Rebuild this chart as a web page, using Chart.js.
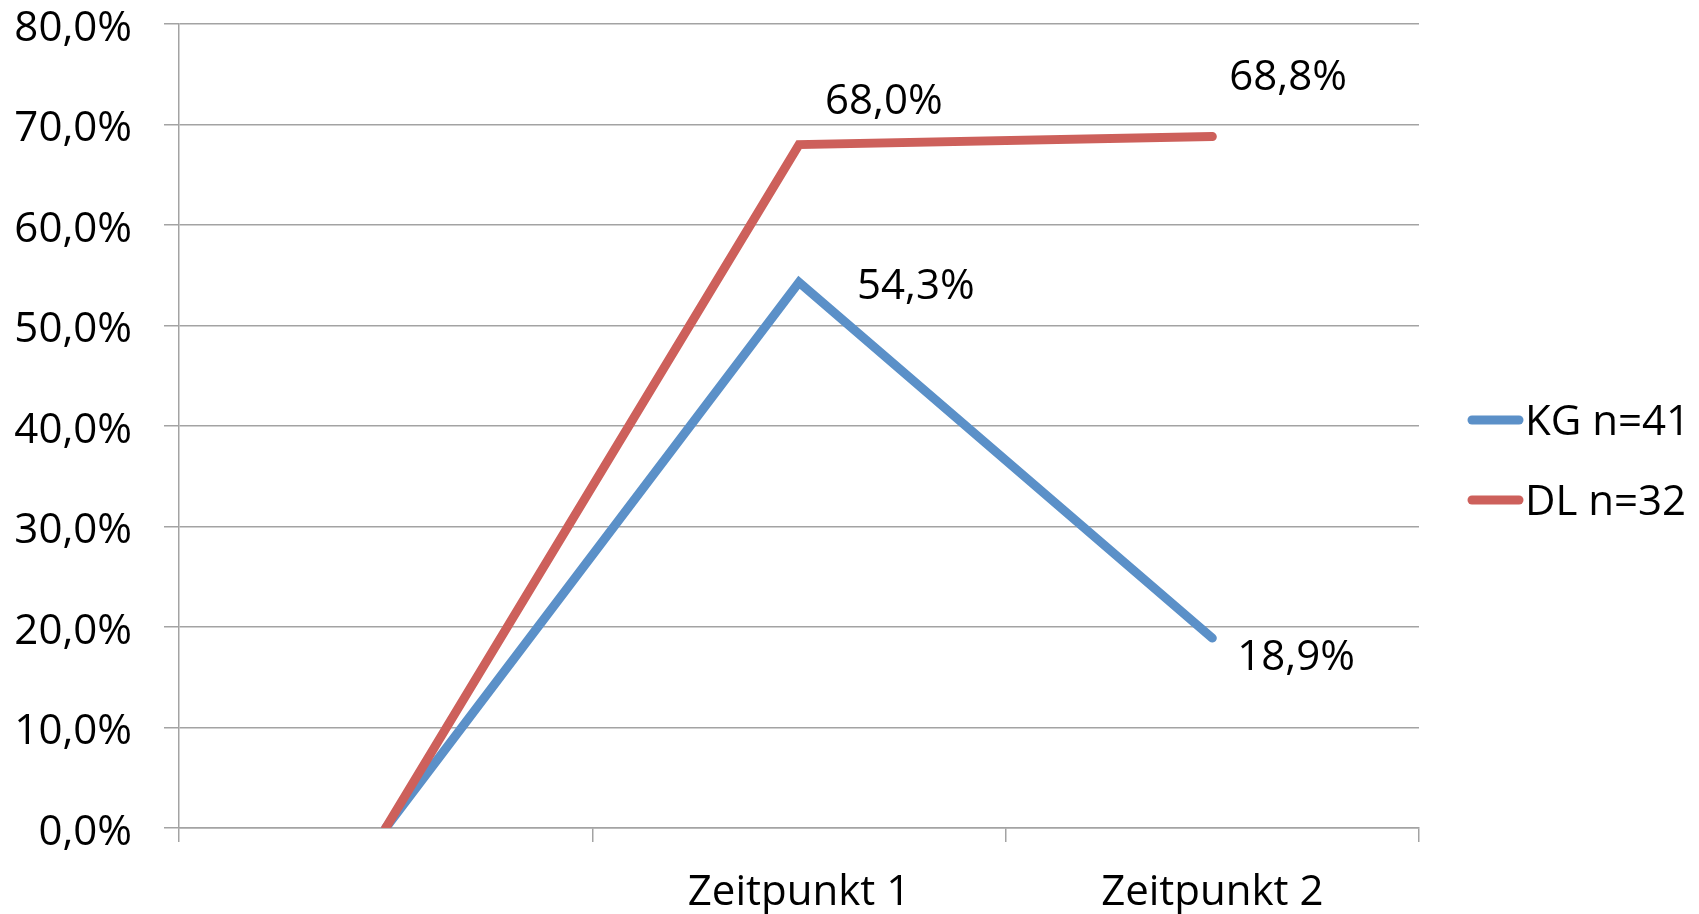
<!DOCTYPE html>
<html>
<head>
<meta charset="utf-8">
<script src="https://cdn.jsdelivr.net/npm/chart.js@4.4.1/dist/chart.umd.min.js"></script>
<style>
  html, body { margin: 0; padding: 0; background: #fff; }
  #wrap { width: 1699px; height: 914px; position: relative; }
</style>
</head>
<body>
<div id="wrap"><canvas id="lineChart"></canvas></div>
<script>
// ===== Data =====
const categories = ['', 'Zeitpunkt 1', 'Zeitpunkt 2'];
const seriesNames = ['KG n=41', 'DL n=32'];
const kgValues = [0, 54.3, 18.9];
const dlValues = [0, 68.0, 68.8];
const yTicks = [0, 10, 20, 30, 40, 50, 60, 70, 80];

const FONT = "'Open Sans', 'Noto Sans', sans-serif";
const BLUE = '#5B90C8';
const RED = '#CD605B';
const GRID = '#A3A3A3';

function pct(v) {
  return v.toFixed(1).replace('.', ',') + '%';
}

// label placement (pixel offsets from each point), index 0 has no label
const labelOffsets = [
  [null, { dx: 58, dy: 5 }, { dx: 25, dy: 20 }],
  [null, { dx: 26, dy: -43 }, { dx: 17, dy: -59 }]
];

// ===== Value labels =====
const valueLabels = {
  id: 'valueLabels',
  afterDatasetsDraw(chart) {
    const ctx = chart.ctx;
    ctx.save();
    ctx.font = '42px ' + FONT;
    ctx.fillStyle = '#000';
    ctx.textAlign = 'left';
    ctx.textBaseline = 'middle';
    chart.data.datasets.forEach((ds, di) => {
      const meta = chart.getDatasetMeta(di);
      meta.data.forEach((pt, i) => {
        const off = labelOffsets[di][i];
        if (!off) return;
        ctx.fillText(pct(ds.data[i]), pt.x + off.dx, pt.y + off.dy);
      });
    });
    ctx.restore();
  }
};

// ===== Legend on the right =====
const sideLegend = {
  id: 'sideLegend',
  afterDraw(chart) {
    const ctx = chart.ctx;
    ctx.save();
    ctx.font = '42px ' + FONT;
    ctx.textAlign = 'left';
    ctx.textBaseline = 'middle';
    chart.data.datasets.forEach((ds, i) => {
      const y = 420 + i * 80;
      ctx.strokeStyle = ds.borderColor;
      ctx.lineWidth = 9;
      ctx.lineCap = 'round';
      ctx.beginPath();
      ctx.moveTo(1472, y);
      ctx.lineTo(1519, y);
      ctx.stroke();
      ctx.fillStyle = '#000';
      ctx.fillText(ds.label, 1525, y + 3);
    });
    ctx.restore();
  }
};

new Chart(document.getElementById('lineChart'), {
  type: 'line',
  data: {
    labels: categories,
    datasets: [
      {
        label: seriesNames[0],
        data: kgValues,
        borderColor: BLUE,
        backgroundColor: BLUE,
        borderWidth: 9,
        borderCapStyle: 'round',
        borderJoinStyle: 'miter',
        pointRadius: 0,
        tension: 0,
        order: 1
      },
      {
        label: seriesNames[1],
        data: dlValues,
        borderColor: RED,
        backgroundColor: RED,
        borderWidth: 9,
        borderCapStyle: 'round',
        borderJoinStyle: 'miter',
        pointRadius: 0,
        tension: 0,
        order: 0
      }
    ]
  },
  options: {
    responsive: true,
    maintainAspectRatio: false,
    animation: false,
    layout: { padding: { left: 0, right: 280, top: 24, bottom: 0 } },
    plugins: {
      legend: { display: false },
      tooltip: { enabled: false }
    },
    scales: {
      x: {
        offset: true,
        grid: {
          offset: true,
          drawOnChartArea: false,
          drawTicks: true,
          tickLength: 14,
          color: GRID,
          lineWidth: 1.5
        },
        border: { display: true, color: GRID, width: 1.5 },
        ticks: {
          font: { family: FONT, size: 42 },
          color: '#000',
          padding: 26,
          maxRotation: 0,
          autoSkip: false
        },
        afterFit: s => { s.height = 86; s.paddingLeft = 0; s.paddingRight = 0; }
      },
      y: {
        min: 0,
        max: 80,
        afterBuildTicks: s => { s.ticks = yTicks.map(v => ({ value: v })); },
        grid: {
          color: GRID,
          lineWidth: 1.5,
          tickLength: 15
        },
        border: { display: true, color: GRID, width: 1.5 },
        ticks: {
          font: { family: FONT, size: 42 },
          color: '#000',
          padding: 32,
          labelOffset: 5,
          callback: v => pct(v)
        },
        afterFit: s => { s.width = 179; s.paddingTop = 0; s.paddingBottom = 0; }
      }
    }
  },
  plugins: [valueLabels, sideLegend]
});
</script>
</body>
</html>
